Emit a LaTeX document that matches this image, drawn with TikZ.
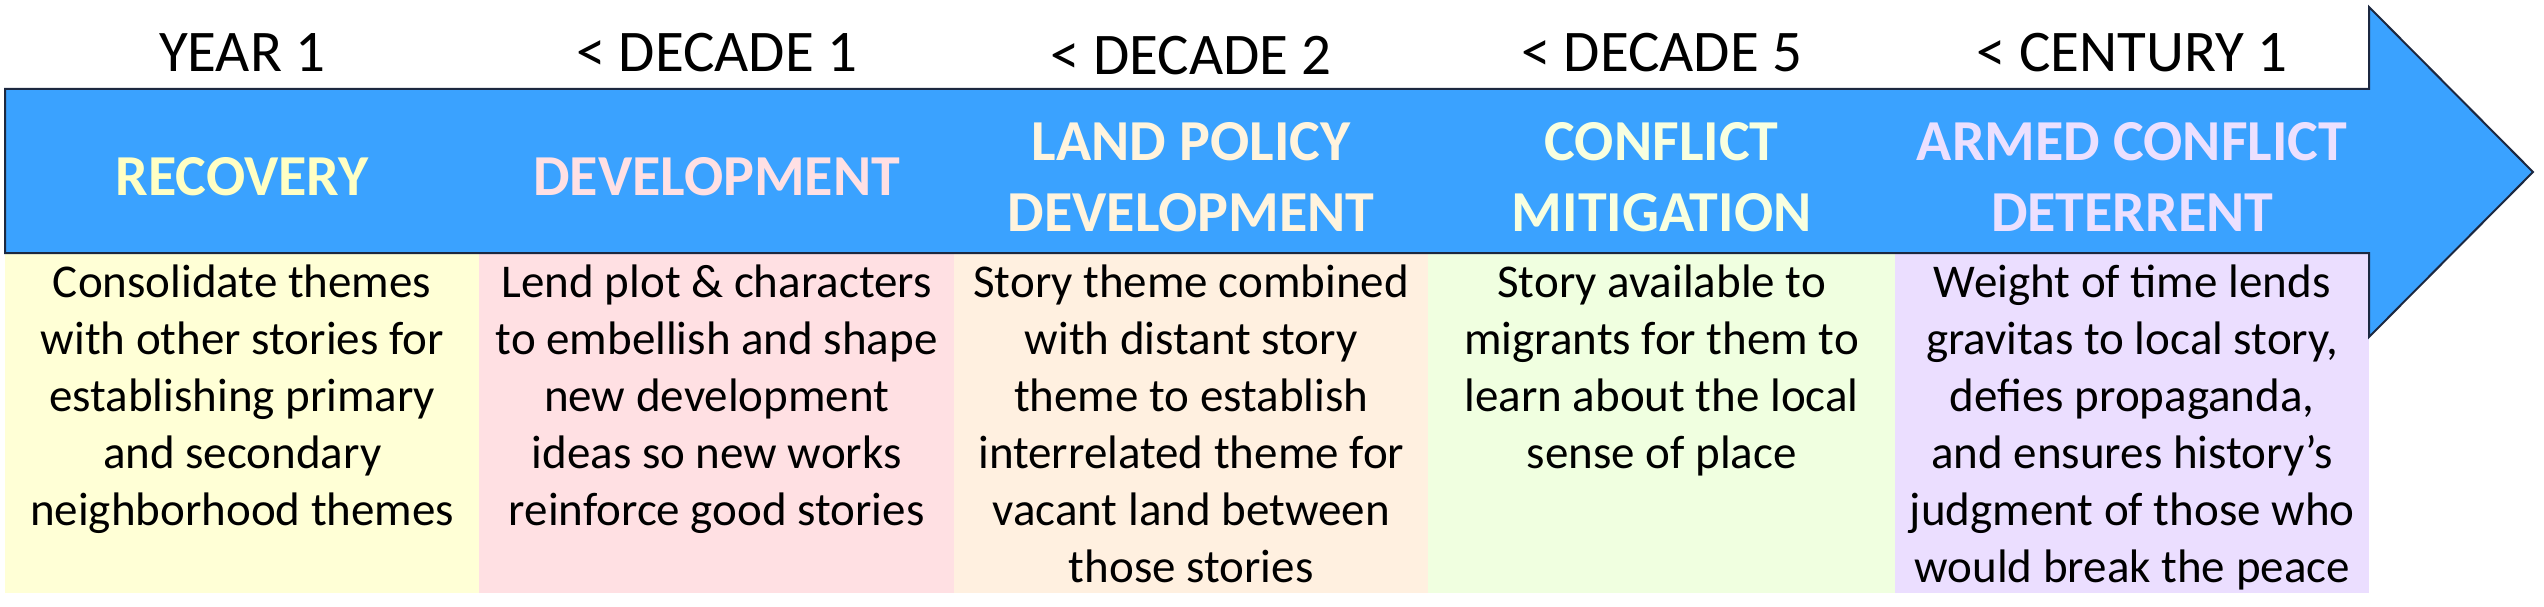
\documentclass[tikz,border=0pt]{standalone}
\usepackage{fontspec}
\setmainfont{Carlito}
\usetikzlibrary{positioning}

\definecolor{arrowblue}{RGB}{58,162,255}
\definecolor{arrowline}{RGB}{28,40,64}
\definecolor{recfill}{RGB}{255,255,214}
\definecolor{devfill}{RGB}{255,224,227}
\definecolor{landfill}{RGB}{255,240,224}
\definecolor{conffill}{RGB}{240,255,224}
\definecolor{armfill}{RGB}{235,222,255}
\definecolor{rectitle}{RGB}{255,255,196}
\definecolor{devtitle}{RGB}{255,224,228}
\definecolor{landtitle}{RGB}{255,244,222}
\definecolor{conftitle}{RGB}{248,255,224}
\definecolor{armtitle}{RGB}{236,224,255}

\begin{document}
\begin{tikzpicture}[x=1pt,y=-1pt]
        \tikzstyle{stage} = [rectangle, minimum height=340pt, inner sep=0pt, anchor=north west, draw=none]
        \tikzstyle{period} = [font=\fontsize{59}{71}\selectfont, inner sep=0pt]
        \tikzstyle{phase} = [font=\fontsize{58}{71}\selectfont\bfseries, align=center, inner sep=0pt]
        \tikzstyle{story} = [font=\fontsize{47}{57}\selectfont, align=center, inner sep=0pt, anchor=north]

        \useasboundingbox (0,0) rectangle (2544,607);

        % coloured boxes under the arrow
        \node (recbox) [stage, fill=recfill, minimum width=474pt] at (5,253) {};
        \node (devbox) [stage, fill=devfill, minimum width=475pt] at (479,253) {};
        \node (landbox) [stage, fill=landfill, minimum width=474pt] at (954,253) {};
        \node (confbox) [stage, fill=conffill, minimum width=467pt] at (1428,253) {};
        \node (armbox) [stage, fill=armfill, minimum width=474pt] at (1895,253) {};

        % the arrow
        \draw [fill=arrowblue, draw=arrowline, line width=2pt] (5,89) -- (2369,89) -- (2369,7) -- (2533,172)
            -- (2369,337) -- (2369,253) -- (5,253) -- cycle;

        % periods
        \node (recyear) [period] at (recbox.north |- 0,53) {YEAR 1};
        \node (devyear) [period] at (devbox.north |- 0,53) {< DECADE 1};
        \node (landyear) [period] at (landbox.north |- 0,56) {< DECADE 2};
        \node (confyear) [period] at (confbox.north |- 0,53) {< DECADE 5};
        \node (armyear) [period] at (armbox.north |- 0,53) {< CENTURY 1};

        % phases
        \node (recphase) [phase, text=rectitle] at (recbox.north |- 0,177) {RECOVERY};
        \node (devphase) [phase, text=devtitle] at (devbox.north |- 0,177) {DEVELOPMENT};
        \node (landphase) [phase, text=landtitle] at (landbox.north |- 0,177) {LAND POLICY\\DEVELOPMENT};
        \node (confphase) [phase, text=conftitle] at (confbox.north |- 0,177) {CONFLICT\\MITIGATION};
        \node (armphase) [phase, text=armtitle] at (armbox.north |- 0,177) {ARMED CONFLICT\\DETERRENT};

        % stories
        \node (recstory) [story] at ([yshift=-4pt]recbox.north) {\strut Consolidate themes\\with other stories for\\establishing primary\\and secondary\\neighborhood themes};
        \node (devstory) [story] at ([yshift=-4pt]devbox.north) {\strut Lend plot \& characters\\to embellish and shape\\new development\\ideas so new works\\reinforce good stories};
        \node (landstory) [story] at ([yshift=-4pt]landbox.north) {\strut Story theme combined\\with distant story\\theme to establish\\interrelated theme for\\vacant land between\\those stories};
        \node (confstory) [story] at ([yshift=-4pt]confbox.north) {\strut Story available to\\migrants for them to\\learn about the local\\sense of place};
        \node (armstory) [story] at ([yshift=-4pt]armbox.north) {\strut Weight of time lends\\gravitas to local story,\\defies propaganda,\\and ensures history’s\\judgment of those who\\would break the peace};
    \end{tikzpicture}
\end{document}
